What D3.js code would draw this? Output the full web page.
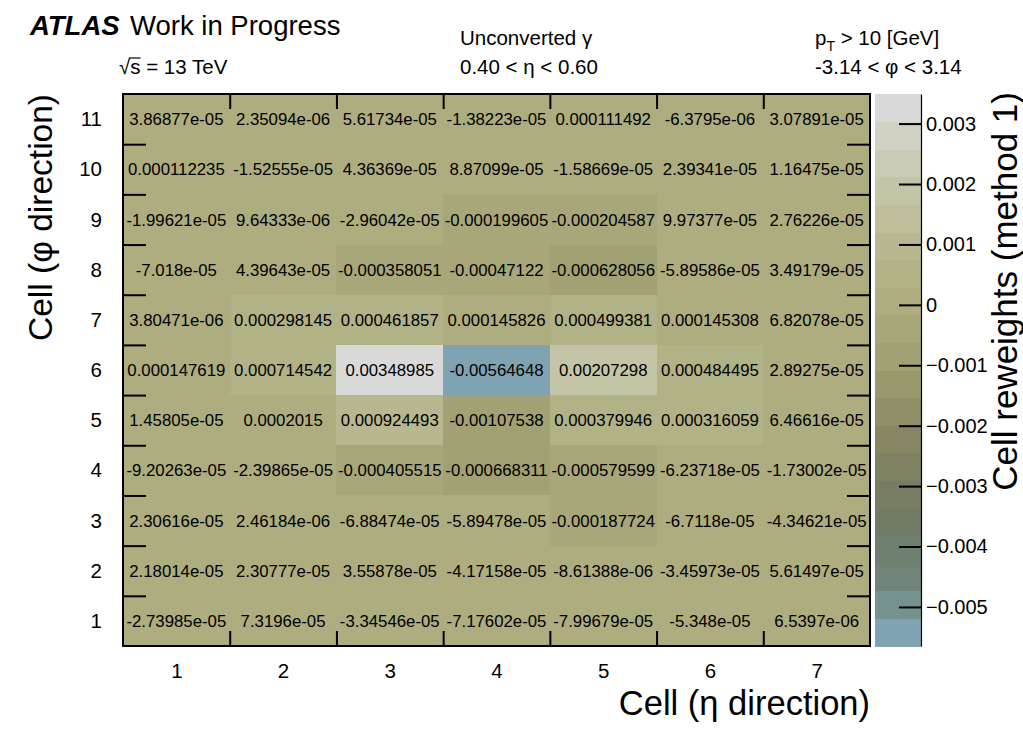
<!DOCTYPE html>
<html>
<head>
<meta charset="utf-8">
<script src="https://cdn.jsdelivr.net/npm/d3@7"></script>
<style>
  body { margin: 0; background: #fff; }
  svg text { font-family: "Liberation Sans", Arial, Helvetica, sans-serif; fill: #000; }
</style>
</head>
<body>
<div id="chart"></div>
<script>
// cell numbers along eta (x) and phi (y)
const etaCells = [1, 2, 3, 4, 5, 6, 7];
const phiCells = [1, 2, 3, 4, 5, 6, 7, 8, 9, 10, 11];

// cell reweights, one row per phi cell, eta 1..7 left to right
const phi1 = [-2.73985e-05, 7.3196e-05, -3.34546e-05, -7.17602e-05, -7.99679e-05, -5.348e-05, 6.5397e-06];
const phi2 = [2.18014e-05, 2.30777e-05, 3.55878e-05, -4.17158e-05, -8.61388e-06, -3.45973e-05, 5.61497e-05];
const phi3 = [2.30616e-05, 2.46184e-06, -6.88474e-05, -5.89478e-05, -0.000187724, -6.7118e-05, -4.34621e-05];
const phi4 = [-9.20263e-05, -2.39865e-05, -0.000405515, -0.000668311, -0.000579599, -6.23718e-05, -1.73002e-05];
const phi5 = [1.45805e-05, 0.0002015, 0.000924493, -0.00107538, 0.000379946, 0.000316059, 6.46616e-05];
const phi6 = [0.000147619, 0.000714542, 0.00348985, -0.00564648, 0.00207298, 0.000484495, 2.89275e-05];
const phi7 = [3.80471e-06, 0.000298145, 0.000461857, 0.000145826, 0.000499381, 0.000145308, 6.82078e-05];
const phi8 = [-7.018e-05, 4.39643e-05, -0.000358051, -0.00047122, -0.000628056, -5.89586e-05, 3.49179e-05];
const phi9 = [-1.99621e-05, 9.64333e-06, -2.96042e-05, -0.000199605, -0.000204587, 9.97377e-05, 2.76226e-05];
const phi10 = [0.000112235, -1.52555e-05, 4.36369e-05, 8.87099e-05, -1.58669e-05, 2.39341e-05, 1.16475e-05];
const phi11 = [3.86877e-05, 2.35094e-06, 5.61734e-05, -1.38223e-05, 0.000111492, -6.3795e-06, 3.07891e-05];
const weightRows = [phi1, phi2, phi3, phi4, phi5, phi6, phi7, phi8, phi9, phi10, phi11];

// colour bar tick labels
const zTicks = [-0.005, -0.004, -0.003, -0.002, -0.001, 0, 0.001, 0.002, 0.003];

// 20 contour colours, lowest first
const palette = [
  '#80a3b3', '#76928f', '#6f8378', '#6e7e6f', '#717b67',
  '#767d63', '#7e8162', '#878764', '#908f68', '#9a996d',
  '#a2a173', '#a8a779', '#adad80', '#b2b287', '#b8b890',
  '#bebe9b', '#c4c4a6', '#cacab4', '#d1d1c4', '#d9d9d9',
];

// ROOT-like %g with 6 significant digits
function fmtG(v) {
  if (v === 0) return '0';
  const e = Math.floor(Math.log10(Math.abs(v)));
  if (e < -4 || e >= 6) {
    const [m, ex] = v.toExponential(5).split('e');
    const sign = ex[0] === '-' ? '-' : '+';
    return m.replace(/\.?0+$/, '') + 'e' + sign + ex.replace(/^[+-]/, '').padStart(2, '0');
  }
  let s = v.toPrecision(6);
  if (s.includes('.')) s = s.replace(/\.?0+$/, '');
  return s;
}

class CellMap {
  constructor(_config, _rows) {
    this.config = {
      parentElement: _config.parentElement,
      width: 1023,
      height: 734,
      frame: { left: 123, right: 870, top: 94, bottom: 646 },
      bar: { left: 875, right: 921 },
    };
    this.rows = _rows;
    this.initVis();
  }

  initVis() {
    const vis = this;
    const f = vis.config.frame;

    vis.svg = d3.select(vis.config.parentElement).append('svg')
      .attr('width', vis.config.width)
      .attr('height', vis.config.height);

    vis.cells = [];
    vis.rows.forEach((row, i) => row.forEach((v, j) => {
      vis.cells.push({ eta: etaCells[j], phi: phiCells[i], value: v });
    }));

    vis.xScale = d3.scaleLinear().domain([0.5, etaCells.length + 0.5]).range([f.left, f.right]);
    vis.yScale = d3.scaleLinear().domain([0.5, phiCells.length + 0.5]).range([f.bottom, f.top]);

    const ext = d3.extent(vis.cells, d => d.value);
    vis.colorScale = d3.scaleQuantize().domain(ext).range(palette);
    vis.zScale = d3.scaleLinear().domain(ext).range([f.bottom, f.top]);

    vis.updateVis();
  }

  updateVis() {
    const vis = this;
    const f = vis.config.frame;
    const b = vis.config.bar;

    // cells
    vis.svg.append('g').selectAll('rect')
      .data(vis.cells)
      .join('rect')
      .attr('x', d => vis.xScale(d.eta - 0.5))
      .attr('y', d => vis.yScale(d.phi + 0.5))
      .attr('width', d => vis.xScale(d.eta + 0.5) - vis.xScale(d.eta - 0.5))
      .attr('height', d => vis.yScale(d.phi - 0.5) - vis.yScale(d.phi + 0.5))
      .attr('fill', d => vis.colorScale(d.value))
      .attr('shape-rendering', 'crispEdges');

    vis.svg.append('g').selectAll('text')
      .data(vis.cells)
      .join('text')
      .attr('x', d => vis.xScale(d.eta))
      .attr('y', d => vis.yScale(d.phi))
      .attr('dy', '0.36em')
      .attr('text-anchor', 'middle')
      .style('font-size', '16.8px')
      .text(d => fmtG(d.value));

    // axes: labels at cell centres, ticks on the cell edges
    const xEdges = etaCells.slice(1).map(c => c - 0.5);
    const yEdges = phiCells.slice(1).map(c => c - 0.5);
    const tickStyle = g => {
      g.select('.domain').remove();
      g.selectAll('line').attr('stroke', '#000').attr('stroke-width', 2);
      g.selectAll('text').style('font-size', '20.5px').attr('fill', '#000');
    };

    vis.svg.append('g')
      .attr('transform', `translate(0,${f.bottom})`)
      .call(d3.axisBottom(vis.xScale).tickValues(etaCells).tickSize(0).tickPadding(17).tickFormat(d3.format('d')))
      .call(tickStyle);
    vis.svg.append('g')
      .attr('transform', `translate(0,${f.bottom})`)
      .call(d3.axisBottom(vis.xScale).tickValues(xEdges).tickSize(-15).tickFormat(''))
      .call(tickStyle);
    vis.svg.append('g')
      .attr('transform', `translate(0,${f.top})`)
      .call(d3.axisTop(vis.xScale).tickValues(xEdges).tickSize(-15).tickFormat(''))
      .call(tickStyle);

    vis.svg.append('g')
      .attr('transform', `translate(${f.left},0)`)
      .call(d3.axisLeft(vis.yScale).tickValues(phiCells).tickSize(0).tickPadding(21).tickFormat(d3.format('d')))
      .call(tickStyle);
    vis.svg.append('g')
      .attr('transform', `translate(${f.left},0)`)
      .call(d3.axisLeft(vis.yScale).tickValues(yEdges).tickSize(-23).tickFormat(''))
      .call(tickStyle);
    vis.svg.append('g')
      .attr('transform', `translate(${f.right},0)`)
      .call(d3.axisRight(vis.yScale).tickValues(yEdges).tickSize(-23).tickFormat(''))
      .call(tickStyle);

    // frame
    vis.svg.append('rect')
      .attr('x', f.left).attr('y', f.top)
      .attr('width', f.right - f.left).attr('height', f.bottom - f.top)
      .attr('fill', 'none').attr('stroke', '#000').attr('stroke-width', 2);

    // colour bar, one band per contour
    const bands = palette.map(c => {
      const [lo, hi] = vis.colorScale.invertExtent(c);
      return { color: c, lo, hi };
    });
    vis.svg.append('g').selectAll('rect')
      .data(bands)
      .join('rect')
      .attr('x', b.left)
      .attr('width', b.right - b.left)
      .attr('y', d => vis.zScale(d.hi))
      .attr('height', d => vis.zScale(d.lo) - vis.zScale(d.hi) + 0.5)
      .attr('fill', d => d.color)
      .attr('shape-rendering', 'crispEdges');

    const zAxis = vis.svg.append('g')
      .attr('transform', `translate(${b.right},0)`)
      .call(d3.axisRight(vis.zScale).tickValues(zTicks).tickSizeInner(-22).tickSizeOuter(0).tickPadding(5)
        .tickFormat(d => (d === 0 ? '0' : d3.format('.3f')(d))));
    zAxis.select('.domain').attr('stroke', '#000').attr('stroke-width', 1.2);
    zAxis.selectAll('line').attr('stroke', '#000').attr('stroke-width', 2);
    zAxis.selectAll('text').style('font-size', '20px').attr('fill', '#000');

    // axis titles
    vis.svg.append('text')
      .attr('x', f.right).attr('y', 715)
      .attr('text-anchor', 'end')
      .style('font-size', '34.5px')
      .text('Cell (η direction)');
    vis.svg.append('text')
      .attr('transform', `translate(52,${f.top}) rotate(-90)`)
      .attr('text-anchor', 'end')
      .style('font-size', '33.5px')
      .text('Cell (φ direction)');
    vis.svg.append('text')
      .attr('transform', `translate(1017,${f.top - 2}) rotate(-90)`)
      .attr('text-anchor', 'end')
      .style('font-size', '35px')
      .text('Cell reweights (method 1)');

    vis.drawLabels();
  }

  drawLabels() {
    const vis = this;

    const atlas = vis.svg.append('text')
      .attr('x', 30).attr('y', 35)
      .style('font-size', '27.5px');
    atlas.append('tspan').style('font-weight', 'bold').style('font-style', 'italic').text('ATLAS');
    atlas.append('tspan').attr('x', 130).text('Work in Progress');

    const sqrtS = vis.svg.append('text')
      .attr('x', 119).attr('y', 74)
      .style('font-size', '20.5px')
      .text('√s = 13 TeV');
    // bar over the s of the radical
    const node = sqrtS.node();
    const x0 = 119 + node.getSubStringLength(0, 1) - 1;
    const w = node.getSubStringLength(1, 1) + 1;
    vis.svg.append('line')
      .attr('x1', x0).attr('x2', x0 + w)
      .attr('y1', 58).attr('y2', 58)
      .attr('stroke', '#000').attr('stroke-width', 1.2);

    vis.svg.append('text')
      .attr('x', 460).attr('y', 45)
      .style('font-size', '20.5px')
      .text('Unconverted γ');
    vis.svg.append('text')
      .attr('x', 460).attr('y', 74)
      .style('font-size', '20.5px')
      .text('0.40 < η < 0.60');

    const pt = vis.svg.append('text')
      .attr('x', 815).attr('y', 45)
      .style('font-size', '20.5px');
    pt.append('tspan').text('p');
    pt.append('tspan').attr('dy', 6).style('font-size', '14px').text('T');
    pt.append('tspan').attr('dy', -6).text(' > 10 [GeV]');

    vis.svg.append('text')
      .attr('x', 815).attr('y', 74)
      .style('font-size', '20.5px')
      .text('-3.14 < φ < 3.14');
  }
}

const cellMap = new CellMap({ parentElement: '#chart' }, weightRows);
</script>
</body>
</html>
